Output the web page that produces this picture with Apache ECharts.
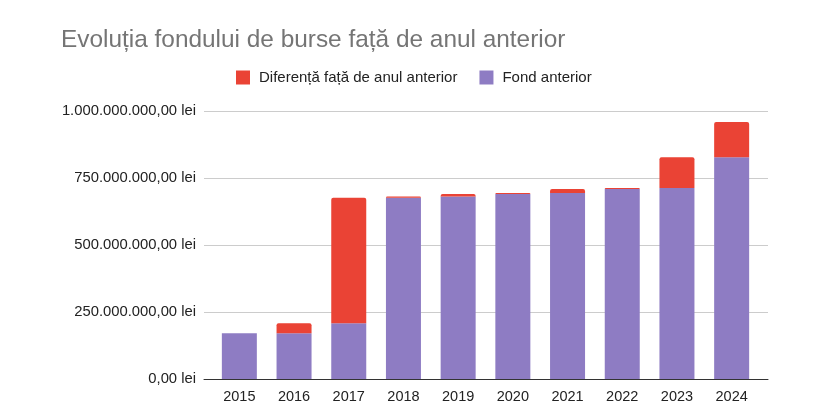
<!DOCTYPE html>
<html>
<head>
<meta charset="utf-8">
<script src="https://cdn.jsdelivr.net/npm/echarts@6/dist/echarts.min.js"></script>
<style>html,body{margin:0;padding:0;background:#fff}#c{width:813px;height:419px}</style>
</head>
<body>
<div id="c"></div>
<script>
var years = ['2015','2016','2017','2018','2019','2020','2021','2022','2023','2024'];
var fondAnterior = [171e6, 171e6, 208e6, 676e6, 681e6, 690e6, 694e6, 709e6, 713e6, 827e6];
var diferenta = [0, 37e6, 468e6, 5e6, 9e6, 4e6, 15e6, 4e6, 114e6, 132e6];
var yTicks = [0, 250e6, 500e6, 750e6, 1000e6];

function fmt(v) {
  var s = Math.round(v).toString().replace(/\B(?=(\d{3})+(?!\d))/g, '.');
  return s + ',00 lei';
}
var FONT = 'Liberation Sans, Arial, sans-serif';
var yMin = yTicks[0], yMax = yTicks[yTicks.length - 1], yStep = yTicks[1] - yTicks[0];

var chart = echarts.init(document.getElementById('c'));
chart.setOption({
  animation: false,
  title: {
    text: 'Evoluția fondului de burse față de anul anterior',
    left: 56, top: 23,
    textStyle: {fontFamily: FONT, fontSize: 24.4, fontWeight: 'normal', color: '#757575'}
  },
  legend: {
    data: ['Diferență față de anul anterior', 'Fond anterior'],
    left: 231, top: 65,
    itemWidth: 14, itemHeight: 14, itemGap: 22,
    icon: 'rect',
    textStyle: {fontFamily: FONT, fontSize: 15, color: '#222', padding: [0, 0, 0, 4]}
  },
  grid: [
    {left: 204, right: 45, top: 111, bottom: 40},
    {left: 212, right: 54, top: 111, bottom: 40}
  ],
  xAxis: [
    {type: 'category', gridIndex: 0, data: years,
     axisTick: {show: false}, axisLabel: {show: false},
     axisLine: {lineStyle: {color: '#333', width: 1}}},
    {type: 'category', gridIndex: 1, data: years,
     axisTick: {show: false}, axisLine: {show: false},
     axisLabel: {fontFamily: FONT, fontSize: 14.5, color: '#222', margin: 10}}
  ],
  yAxis: [
    {type: 'value', gridIndex: 0, min: yMin, max: yMax, interval: yStep,
     axisLine: {show: false}, axisTick: {show: false},
     splitLine: {lineStyle: {color: '#ccc'}},
     axisLabel: {fontFamily: FONT, fontSize: 14.8, color: '#222', margin: 8, formatter: fmt}},
    {type: 'value', gridIndex: 1, min: yMin, max: yMax, interval: yStep,
     axisLine: {show: false}, axisTick: {show: false}, axisLabel: {show: false},
     splitLine: {show: false}}
  ],
  series: [
    {name: 'Fond anterior', type: 'bar', stack: 'a', data: fondAnterior, barWidth: 35,
     xAxisIndex: 1, yAxisIndex: 1, z: 3,
     itemStyle: {color: '#8e7cc3'}},
    {name: 'Diferență față de anul anterior', type: 'bar', stack: 'a', data: diferenta, barWidth: 35,
     xAxisIndex: 1, yAxisIndex: 1, z: 3,
     itemStyle: {color: '#ea4335', borderRadius: [2, 2, 0, 0]}}
  ]
});
</script>
</body>
</html>
